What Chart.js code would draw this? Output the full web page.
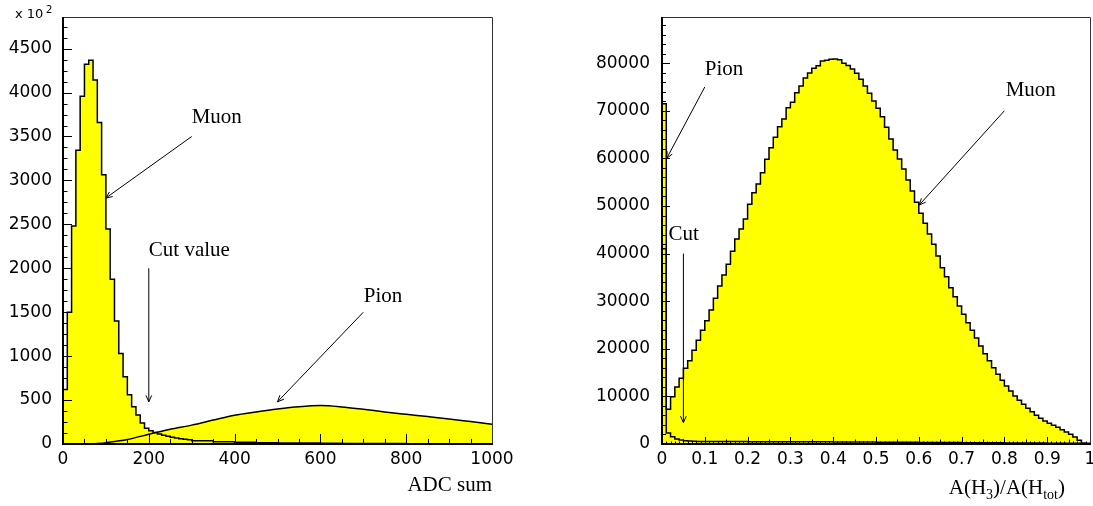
<!DOCTYPE html>
<html>
<head>
<meta charset="utf-8">
<script src="https://cdn.jsdelivr.net/npm/chart.js@4.4.1/dist/chart.umd.min.js"></script>
<style>
  html, body { margin: 0; padding: 0; background: #fff; }
  #wrap { position: relative; width: 1093px; height: 506px; overflow: hidden; }
  canvas { position: absolute; top: 0; }
  #adcChart { left: 0; }
  #ratioChart { left: 546px; }
</style>
</head>
<body>
<div id="wrap">
  <canvas id="adcChart" width="546" height="506"></canvas>
  <canvas id="ratioChart" width="547" height="506"></canvas>
</div>
<script>
// ---- left panel: ADC sum (counts x 10^2) ----
const muonAdcEdges = [0, 10, 20, 30, 40, 50, 60, 70, 80, 90, 100, 110, 120, 130, 140, 150, 160, 170, 180, 190,
  200, 210, 220, 230, 240, 250, 260, 270, 280, 290, 300, 350, 400, 450, 500, 550, 600, 650, 700, 750, 800,
  850, 900, 950, 1000];
const muonAdcCounts = [620, 1500, 2480, 3344, 3958, 4322, 4367, 4144, 3659, 3065, 2447, 1875, 1401, 1031, 765,
  560, 424, 330, 240, 180, 150, 130, 115, 100, 88, 78, 69, 61, 54, 48, 38, 26, 19, 15, 12, 10, 8, 7, 6, 5, 4,
  4, 3, 3];
const pionAdcX = [70, 100, 150, 200, 250, 300, 350, 400, 450, 500, 550, 600, 650, 700, 750, 800, 850, 900, 950, 1000];
const pionAdcCounts = [0, 15, 50, 112, 168, 215, 272, 328, 365, 398, 424, 437, 422, 395, 365, 338, 312, 285, 255, 225];
const adcTicks = [0, 200, 400, 600, 800, 1000];
const adcCountTicks = [0, 500, 1000, 1500, 2000, 2500, 3000, 3500, 4000, 4500];

// ---- right panel: A(H3)/A(Htot), 100 bins of 0.01 ----
const ratioBinWidth = 0.01;
const muonRatioCounts = [41000, 7300, 9940, 12000, 13800, 15900, 17500, 19700, 21800, 23900,
  25900, 28150, 30600, 33200, 35500, 37750, 40500, 43070, 45170, 47270,
  50360, 52800, 54600, 57000, 59800, 62250, 64430, 66660, 68280, 70660,
  71800, 73800, 75200, 76900, 77940, 78930, 79480, 80460, 80600, 80800,
  80900, 80700, 80000, 79500, 78800, 77870, 76600, 75200, 73670, 72060,
  70520, 68760, 66530, 64075, 61760, 59870, 57770, 55460, 53150, 50770,
  48460, 46360, 44110, 41950, 39500, 37000, 35150, 32840, 30950, 28990,
  27240, 25480, 23870, 22260, 20580, 18970, 17500, 16030, 14640, 13380,
  12180, 11130, 10080, 9180, 8340, 7500, 6790, 6030, 5400, 4830,
  4350, 3930, 3510, 3000, 2520, 2040, 1470, 780, 150, 0];
const pionRatioEdges = [0, 0.01, 0.02, 0.03, 0.04, 0.05, 0.06, 0.07, 0.08, 0.09, 0.1,
  0.2, 0.3, 0.4, 0.5, 0.6, 0.7, 0.8, 0.9, 1.0];
const pionRatioCounts = [71500, 2300, 1500, 1050, 850, 700, 620, 580, 550, 520, 500, 480, 450, 420, 380, 330, 280, 220, 150];
const ratioTicks = [0, 0.1, 0.2, 0.3, 0.4, 0.5, 0.6, 0.7, 0.8, 0.9, 1];
const ratioCountTicks = [0, 10000, 20000, 30000, 40000, 50000, 60000, 70000, 80000];

const YELLOW = "#ffff00";
const TICK_FONT = { family: "DejaVu Sans", size: 17 };
const SERIF = '"Liberation Serif", "Times New Roman", serif';

// histogram outline points for a stepped line: value held from each edge to the next
function histPoints(edges, counts) {
  const pts = [{ x: edges[0], y: 0 }];
  counts.forEach((c, i) => pts.push({ x: edges[i], y: c }));
  pts.push({ x: edges[edges.length - 1], y: 0 });
  return pts;
}

function drawArrow(ctx, x0, y0, x1, y1) {
  const ang = Math.atan2(y1 - y0, x1 - x0);
  const head = 7, spread = 0.42;
  ctx.beginPath();
  ctx.moveTo(x0, y0);
  ctx.lineTo(x1, y1);
  ctx.moveTo(x1 - head * Math.cos(ang - spread), y1 - head * Math.sin(ang - spread));
  ctx.lineTo(x1, y1);
  ctx.lineTo(x1 - head * Math.cos(ang + spread), y1 - head * Math.sin(ang + spread));
  ctx.stroke();
}

// frame, inward ticks, labels and arrows in the ROOT style
const histDecor = {
  id: "histDecor",
  afterDraw(chart, args, opts) {
    const { ctx, chartArea: a, scales: { x, y } } = chart;
    ctx.save();
    ctx.strokeStyle = "#000";
    ctx.fillStyle = "#000";

    ctx.lineWidth = 1;
    ctx.beginPath();
    opts.yTicks.forEach((t) => {
      for (let i = 0; i * t.step <= y.max; i++) {
        const py = Math.round(y.getPixelForValue(i * t.step)) + 0.5;
        ctx.moveTo(a.left, py);
        ctx.lineTo(a.left + t.len, py);
      }
    });
    opts.xTicks.forEach((t) => {
      for (let i = 0; i * t.step <= x.max + 1e-9; i++) {
        const px = Math.round(x.getPixelForValue(i * t.step)) + 0.5;
        ctx.moveTo(px, a.bottom);
        ctx.lineTo(px, a.bottom - t.len);
      }
    });
    ctx.stroke();

    // thin top / right frame, heavier axes
    ctx.strokeStyle = "#333";
    ctx.beginPath();
    ctx.moveTo(a.left, a.top + 0.5);
    ctx.lineTo(a.right + 0.5, a.top + 0.5);
    ctx.lineTo(a.right + 0.5, a.bottom);
    ctx.stroke();
    ctx.strokeStyle = "#000";
    ctx.lineWidth = 2;
    ctx.beginPath();
    ctx.moveTo(a.left, a.top);
    ctx.lineTo(a.left, a.bottom);
    ctx.lineTo(a.right + 1, a.bottom);
    ctx.stroke();

    // annotations
    ctx.lineWidth = 1;
    ctx.font = "21px " + SERIF;
    ctx.textBaseline = "alphabetic";
    ctx.textAlign = "left";
    opts.notes.forEach((n) => {
      ctx.fillText(n.text, x.getPixelForValue(n.x), y.getPixelForValue(n.y));
    });
    opts.arrows.forEach((ar) => {
      drawArrow(ctx, x.getPixelForValue(ar.from[0]), y.getPixelForValue(ar.from[1]),
        x.getPixelForValue(ar.to[0]), y.getPixelForValue(ar.to[1]));
    });

    // axis title with optional subscripts, right aligned
    const parts = opts.title.parts;
    const fontFor = (p) => (p.sub ? "14px " : "21px ") + SERIF;
    let w = 0;
    parts.forEach((p) => { ctx.font = fontFor(p); w += ctx.measureText(p.text).width; });
    let tx = a.right - opts.title.inset - w;
    const base = a.bottom + opts.title.drop;
    parts.forEach((p) => {
      ctx.font = fontFor(p);
      ctx.fillText(p.text, tx, base + (p.sub ? 5 : 0));
      tx += ctx.measureText(p.text).width;
    });

    // "x 10^2" multiplier
    if (opts.exponent) {
      ctx.font = "13px DejaVu Sans";
      ctx.fillText("x 10", 15, 18);
      ctx.font = "10px DejaVu Sans";
      ctx.fillText(opts.exponent, 46, 13);
    }
    ctx.restore();
  },
};

function histDataset(points, stepped) {
  return {
    data: points,
    stepped: stepped,
    cubicInterpolationMode: stepped ? "default" : "monotone",
    fill: "origin",
    backgroundColor: YELLOW,
    borderColor: "#000",
    borderWidth: 1.5,
    pointRadius: 0,
  };
}

function axisOptions(min, max, tickValues, fitKey, fitSize, pad) {
  return {
    type: "linear",
    min: min,
    max: max,
    grid: { display: false, drawTicks: false },
    border: { display: false },
    ticks: {
      autoSkip: false,
      maxRotation: 0,
      padding: pad,
      color: "#000",
      font: TICK_FONT,
      callback: (v) => String(v),
    },
    afterBuildTicks: (s) => {
      s.ticks = tickValues.map((v) => ({ value: v }));
    },
    afterFit: (s) => {
      s[fitKey] = fitSize;
      s.paddingLeft = 0;
      s.paddingRight = 0;
      s.paddingTop = 0;
      s.paddingBottom = 0;
    },
  };
}

// left chart
new Chart(document.getElementById("adcChart"), {
  type: "line",
  data: {
    datasets: [
      histDataset(histPoints(muonAdcEdges, muonAdcCounts), true),
      histDataset(pionAdcX.map((v, i) => ({ x: v, y: pionAdcCounts[i] })), false),
    ],
  },
  options: {
    responsive: false,
    animation: false,
    devicePixelRatio: 1,
    layout: { padding: { top: 17, right: 54, bottom: 0, left: 0 } },
    scales: {
      x: axisOptions(0, 1000, adcTicks, "height", 62, 5),
      y: axisOptions(0, 4860, adcCountTicks, "width", 63, 11),
    },
    plugins: {
      legend: { display: false },
      tooltip: { enabled: false },
      filler: { drawTime: "beforeDatasetsDraw" },
      histDecor: {
        yTicks: [{ step: 500, len: 9 }, { step: 125, len: 4.5 }],
        xTicks: [{ step: 200, len: 10 }, { step: 50, len: 5 }],
        notes: [
          { text: "Muon", x: 300, y: 3650 },
          { text: "Cut value", x: 200, y: 2140 },
          { text: "Pion", x: 701, y: 1620 },
        ],
        arrows: [
          { from: [300, 3500], to: [100, 2800] },
          { from: [200, 2000], to: [200, 480] },
          { from: [700, 1500], to: [500, 480] },
        ],
        title: { parts: [{ text: "ADC sum" }], inset: 0, drop: 47 },
        exponent: "2",
      },
    },
  },
  plugins: [histDecor],
});

// right chart
const muonRatioEdges = muonRatioCounts.map((c, i) => i * ratioBinWidth).concat([muonRatioCounts.length * ratioBinWidth]);

new Chart(document.getElementById("ratioChart"), {
  type: "line",
  data: {
    datasets: [
      histDataset(histPoints(muonRatioEdges, muonRatioCounts), true),
      histDataset(histPoints(pionRatioEdges, pionRatioCounts), true),
    ],
  },
  options: {
    responsive: false,
    animation: false,
    devicePixelRatio: 1,
    layout: { padding: { top: 17, right: 3, bottom: 0, left: 0 } },
    scales: {
      x: axisOptions(0, 1, ratioTicks, "height", 62, 5),
      y: axisOptions(0, 89700, ratioCountTicks, "width", 116, 12),
    },
    plugins: {
      legend: { display: false },
      tooltip: { enabled: false },
      filler: { drawTime: "beforeDatasetsDraw" },
      histDecor: {
        yTicks: [{ step: 10000, len: 8 }, { step: 2000, len: 4 }],
        xTicks: [{ step: 0.1, len: 7 }, { step: 0.05, len: 4.5 }, { step: 0.01, len: 2.5 }],
        notes: [
          { text: "Pion", x: 0.1, y: 77600 },
          { text: "Muon", x: 0.803, y: 73000 },
          { text: "Cut", x: 0.015, y: 42840 },
        ],
        arrows: [
          { from: [0.1, 75000], to: [0.011, 60000] },
          { from: [0.8, 70000], to: [0.601, 50200] },
          { from: [0.05, 40000], to: [0.05, 4500] },
        ],
        title: {
          parts: [{ text: "A(H" }, { text: "3", sub: true }, { text: ")/A(H" }, { text: "tot", sub: true }, { text: ")" }],
          inset: 25,
          drop: 50,
        },
      },
    },
  },
  plugins: [histDecor],
});
</script>
</body>
</html>
